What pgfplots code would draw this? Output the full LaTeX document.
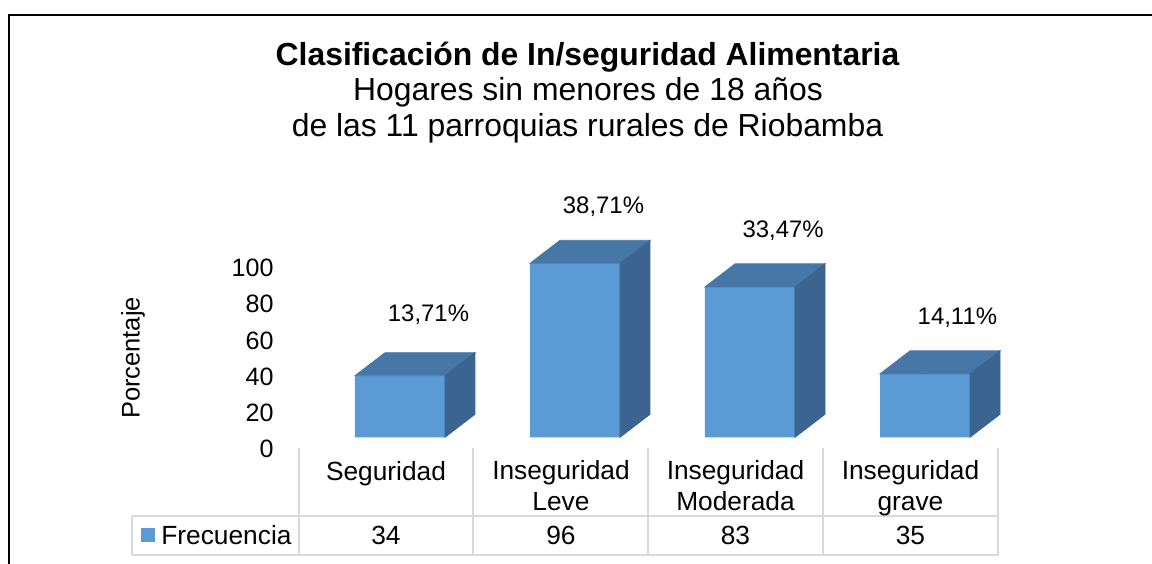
\documentclass[border=0pt]{standalone}
\usepackage{fontspec}
\setmainfont{Liberation Sans}
\usepackage{pgfplots}
\usepackage{pgfplotstable}
\pgfplotsset{compat=1.18}
\definecolor{frontc}{HTML}{5B9BD5}
\definecolor{topc}{HTML}{4677A7}
\definecolor{sidec}{HTML}{3B6590}
\definecolor{gridc}{HTML}{D9D9D9}
\pgfplotstableread{
x y lab dx dy
0 34 {13,71\%} 14.25 27.3
1 96 {38,71\%} 14.25 25.1
2 83 {33,47\%} 16.6 24.8
3 35 {14,11\%} 16.2 24.5
}\datatable
\newcommand\cat{\fontsize{13.2}{16}\selectfont}
\begin{document}
\begin{tikzpicture}
\path[use as bounding box] (0,0) rectangle (576bp,-282bp);
\begin{scope}[x=0.5bp,y=-0.5bp]
\coordinate (O) at (312.5,437.3);
% border
\draw[black, line width=1bp] (9,564) -- (9,15) -- (1152,15);
% titles
\node[anchor=base, inner sep=0pt, font=\bfseries\fontsize{16}{19}\selectfont] at (587.5,65) {Clasificación de In/seguridad Alimentaria};
\node[anchor=base, inner sep=0pt, font=\fontsize{16}{19}\selectfont] at (588,101) {Hogares sin menores de 18 años};
\node[anchor=base, inner sep=0pt, font=\fontsize{16}{19}\selectfont] at (587.5,137) {de las 11 parroquias rurales de Riobamba};
% y label
\node[rotate=90, inner sep=0pt, font=\fontsize{12.8}{15}\selectfont] at (133,358) {Porcentaje};
% table grid
\draw[gridc, line width=0.75bp] (132,516) -- (998,516);
\draw[gridc, line width=0.75bp] (132,555) -- (998,555);
\draw[gridc, line width=0.75bp] (132,516) -- (132,555);
\foreach \xx in {299,473,648,823,998} {\draw[gridc, line width=0.75bp] (\xx,448) -- (\xx,555);}
% category labels
\node[anchor=base, inner sep=0pt, font=\cat] at (386,481) {Seguridad};
\node[anchor=base, inner sep=0pt, font=\cat] at (561,480) {Inseguridad};
\node[anchor=base, inner sep=0pt, font=\cat] at (561,511) {Leve};
\node[anchor=base, inner sep=0pt, font=\cat] at (735.5,480) {Inseguridad};
\node[anchor=base, inner sep=0pt, font=\cat] at (735.5,511) {Moderada};
\node[anchor=base, inner sep=0pt, font=\cat] at (910.5,480) {Inseguridad};
\node[anchor=base, inner sep=0pt, font=\cat] at (910.5,511) {grave};
% data row
\node[anchor=base, inner sep=0pt, font=\cat] at (386,545) {34};
\node[anchor=base, inner sep=0pt, font=\cat] at (561,545) {96};
\node[anchor=base, inner sep=0pt, font=\cat] at (735.5,545) {83};
\node[anchor=base, inner sep=0pt, font=\cat] at (910.5,545) {35};
% legend key
\fill[frontc] (141,528) rectangle (155,542);
\node[anchor=base west, inner sep=0pt, font=\cat] at (161,545) {Frecuencia};
\end{scope}
\begin{axis}[
  at={(O)}, anchor=south west,
  x=87.5bp, y=0.906bp,
  xmin=-0.5, xmax=3.5, ymin=0, ymax=100,
  clip=false,
  axis line style={draw=none},
  tick style={draw=none},
  xtick=\empty,
  ytick={0,20,...,100},
  /pgf/number format/assume math mode=true,
  yticklabel style={font=\fontsize{12.6}{15}\selectfont, anchor=east, inner sep=0pt, xshift=-19.25bp, yshift=-6bp},
]
\addplot[ybar, bar width=45bp, fill=frontc, draw=none,
  nodes near coords, point meta=explicit symbolic,
  visualization depends on={\thisrow{dx} \as \dx},
  visualization depends on={\thisrow{dy} \as \dy},
  nodes near coords style={anchor=base, inner sep=0pt, text=black, font=\fontsize{12}{14}\selectfont, xshift=\dx bp, yshift=\dy bp},
] table[x=x, y=y, meta=lab] {\datatable};
\addplot[scatter, only marks, mark=*, mark size=0pt,
  mark options={draw=none, fill=none},
  visualization depends on={y \as \rawy},
  scatter/@pre marker code/.code={%
    \pgfmathsetmacro\hh{\rawy*0.906}%
    \pgfmathsetmacro\hb{11.5-\hh}%
    \fill[topc] (-22.5bp,0bp) -- (22.5bp,0bp) -- (37.5bp,11.5bp) -- (-7.5bp,11.5bp) -- cycle;
    \fill[sidec] (22.5bp,0bp) -- (37.5bp,11.5bp) -- (37.5bp,\hb bp) -- (22.5bp,-\hh bp) -- cycle;
    \begin{scope}
  },
  scatter/@post marker code/.code={\end{scope}},
] table[x=x, y=y] {\datatable};
\end{axis}
\end{tikzpicture}
\end{document}
